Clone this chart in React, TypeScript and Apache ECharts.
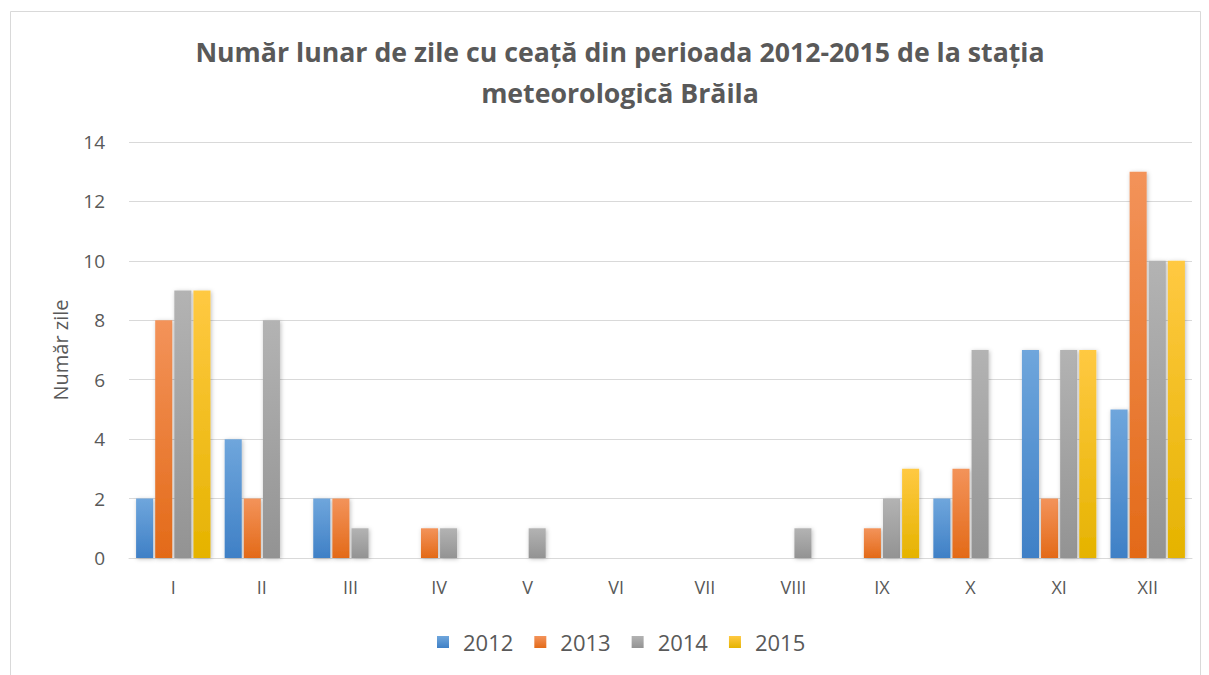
import React, { useEffect, useRef } from "react";
import * as echarts from "echarts";

const months = ["I", "II", "III", "IV", "V", "VI", "VII", "VIII", "IX", "X", "XI", "XII"];
const s2012 = [2, 4, 2, 0, 0, 0, 0, 0, 0, 2, 7, 5];
const s2013 = [8, 2, 2, 1, 0, 0, 0, 0, 1, 3, 2, 13];
const s2014 = [9, 8, 1, 1, 1, 0, 0, 1, 2, 7, 7, 10];
const s2015 = [9, 0, 0, 0, 0, 0, 0, 0, 3, 0, 7, 10];
const seriesNames = ["2012", "2013", "2014", "2015"];
const yTicks = [0, 2, 4, 6, 8, 10, 12, 14];

const grads = [
  ["#6fa6dc", "#3f80c6"],
  ["#f3935a", "#e36a18"],
  ["#b3b3b3", "#939393"],
  ["#ffc942", "#e5b300"],
];

export default function App() {
  const ref = useRef<HTMLDivElement>(null);
  useEffect(() => {
    const chart = echarts.init(ref.current!, null, { renderer: "svg" });
    const data = [s2012, s2013, s2014, s2015];
    const font = "'Open Sans', sans-serif";
    chart.setOption({
      animation: false,
      textStyle: { fontFamily: font },
      title: {
        text: "Număr lunar de zile cu ceață din perioada 2012-2015 de la stația\nmeteorologică Brăila",
        left: 615,
        textAlign: "center",
        top: 26,
        textStyle: { fontSize: 26.7, fontWeight: "bold", color: "#595959", lineHeight: 41, fontFamily: font },
      },
      legend: {
        data: seriesNames,
        top: 626,
        left: 432,
        itemWidth: 12,
        itemHeight: 12,
        itemGap: 21,
        icon: "rect",
        textStyle: { fontSize: 22, color: "#595959", fontFamily: font, padding: [0, 0, 0, 9] },
      },
      grid: { left: 129, right: 17, top: 142, bottom: 117, containLabel: false },
      xAxis: {
        type: "category",
        data: months,
        axisLine: { lineStyle: { color: "#d9d9d9", width: 1 } },
        axisTick: { show: false },
        axisLabel: { color: "#595959", fontSize: 18, margin: 20, fontFamily: font },
      },
      yAxis: {
        type: "value",
        min: yTicks[0],
        max: yTicks[yTicks.length - 1],
        interval: 2,
        name: "Număr zile",
        nameLocation: "middle",
        nameGap: 59,
        nameTextStyle: { color: "#595959", fontSize: 20, fontFamily: font },
        axisLine: { show: false },
        axisTick: { show: false },
        axisLabel: { color: "#595959", fontSize: 19, margin: 24, fontFamily: font },
        splitLine: { lineStyle: { color: "#d9d9d9", width: 1 } },
      },
      series: seriesNames.map((n, i) => ({
        name: n,
        type: "bar",
        data: data[i],
        barGap: "12%",
        barCategoryGap: "16%",
        itemStyle: {
          color: new echarts.graphic.LinearGradient(0, 0, 0, 1, [
            { offset: 0, color: grads[i][0] },
            { offset: 1, color: grads[i][1] },
          ]),
          shadowColor: "rgba(0,0,0,0.25)",
          shadowBlur: 4,
          shadowOffsetX: 1,
          shadowOffsetY: 1,
        },
      })),
      graphic: [
        {
          type: "rect",
          shape: { x: 10.5, y: 11.5, width: 1190, height: 680 },
          style: { fill: "none", stroke: "#d9d9d9", lineWidth: 1 },
          silent: true,
          z: -10,
        },
      ],
    });
    return () => chart.dispose();
  }, []);
  return <div ref={ref} style={{ width: 1209, height: 675, position: "absolute", left: 0, top: 0, background: "#fff" }} />;
}
